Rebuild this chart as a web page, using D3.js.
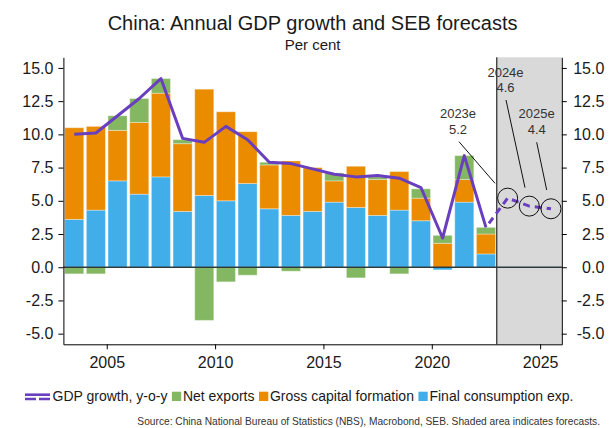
<!DOCTYPE html>
<html>
<head>
<meta charset="utf-8">
<script src="https://cdn.jsdelivr.net/npm/d3@7/dist/d3.min.js"></script>
<style>
  html, body { margin: 0; padding: 0; background: #fff; }
  svg { display: block; font-family: "Liberation Sans", Arial, sans-serif; }
</style>
</head>
<body>
<svg id="chart" width="609" height="428"></svg>
<script>
// Contributions to China's real GDP growth, percentage points
const years = [2003, 2004, 2005, 2006, 2007, 2008, 2009, 2010, 2011, 2012,
               2013, 2014, 2015, 2016, 2017, 2018, 2019, 2020, 2021, 2022];
const consumption = [3.6, 4.3, 6.5, 5.5, 6.8, 4.2, 5.4, 5.0, 6.3, 4.4,
                     3.9, 4.2, 4.9, 4.5, 3.9, 4.3, 3.5, -0.2, 4.9, 1.0];
const capitalFormation = [6.9, 6.3, 3.8, 5.4, 6.3, 5.1, 8.0, 6.7, 3.9, 3.3,
                          4.1, 3.3, 1.6, 3.1, 2.7, 2.9, 1.7, 1.8, 1.7, 1.5];
const netExports = [-0.5, -0.5, 1.1, 1.8, 1.1, 0.3, -4.0, -1.1, -0.6, 0.2,
                    -0.3, -0.1, 0.6, -0.8, 0.2, -0.5, 0.7, 0.6, 1.8, 0.5];
const gdpGrowth = [10.0, 10.1, 11.4, 12.7, 14.2, 9.7, 9.4, 10.6, 9.6, 7.9,
                   7.8, 7.4, 7.0, 6.8, 6.9, 6.7, 6.0, 2.2, 8.4, 3.0];
// SEB forecasts (the dashed segment starts from the last outcome)
const forecastYears = [2022, 2023, 2024, 2025];
const forecastGrowth = [3.0, 5.2, 4.6, 4.4];
const labelledYears = [2023, 2024, 2025];
const labelledValues = [5.2, 4.6, 4.4];
const yTicks = [-5, -2.5, 0, 2.5, 5, 7.5, 10, 12.5, 15];
const xTicks = [2005, 2010, 2015, 2020, 2025];
const forecastStart = 2023;

const colors = {
  consumption: "#41aeea",
  capital: "#ea8b00",
  net: "#84b761",
  gdp: "#6a3fbf",
  shade: "#d9d9d9"
};

const svg = d3.select("#chart");
const W = 609, H = 428;
const m = { left: 63.4, right: 609 - 561.8, top: 57.3, bottom: 428 - 344.3 };
const iw = W - m.left - m.right, ih = H - m.top - m.bottom;

const x = d3.scaleLinear().domain([2003, 2026]).range([m.left, m.left + iw]);
const y = d3.scaleLinear().domain([-5.8, 15.8]).range([m.top + ih, m.top]);

const fmtLocale = d3.formatLocale({ decimal: ".", thousands: ",", grouping: [3], currency: ["", ""], minus: "-" });
const fmt1 = fmtLocale.format(".1f");

// Title
svg.append("text").attr("x", x(2014.5)).attr("y", 29.5)
  .attr("text-anchor", "middle").attr("font-size", 20).attr("fill", "#1a1a1a")
  .text("China: Annual GDP growth and SEB forecasts");
svg.append("text").attr("x", x(2014.5)).attr("y", 50)
  .attr("text-anchor", "middle").attr("font-size", 15).attr("fill", "#1a1a1a")
  .text("Per cent");

// Forecast shading
svg.append("rect")
  .attr("x", x(forecastStart)).attr("y", y(15.8))
  .attr("width", x(2026) - x(forecastStart)).attr("height", y(-5.8) - y(15.8))
  .attr("fill", colors.shade);
svg.append("line")
  .attr("x1", x(forecastStart)).attr("x2", x(forecastStart))
  .attr("y1", y(15.8)).attr("y2", y(-5.8))
  .attr("stroke", "#000").attr("stroke-width", 1);

// Stacked contribution bars
const rows = years.map((yr, i) => ({
  year: yr,
  consumption: consumption[i],
  capital: capitalFormation[i],
  net: netExports[i]
}));
const keys = ["consumption", "capital", "net"];
const series = d3.stack().keys(keys).offset(d3.stackOffsetDiverging)(rows);
const slot = x(2004) - x(2003);
const bw = slot * 0.88;

svg.append("g").selectAll("g").data(series).join("g")
  .attr("fill", d => colors[d.key])
  .selectAll("rect").data(d => d).join("rect")
  .attr("x", d => x(d.data.year + 0.5) - bw / 2)
  .attr("width", bw)
  .attr("y", d => y(Math.max(d[0], d[1])))
  .attr("height", d => Math.abs(y(d[0]) - y(d[1])))
  .attr("stroke", "#fff").attr("stroke-opacity", 0.35).attr("stroke-width", 1);

// Zero line
svg.append("line")
  .attr("x1", x(2003)).attr("x2", x(2026))
  .attr("y1", y(0)).attr("y2", y(0))
  .attr("stroke", "#2b3b3d").attr("stroke-width", 1.3);

// GDP growth line
const line = d3.line().x(d => x(d[0] + 0.5)).y(d => y(d[1]));
svg.append("path")
  .datum(years.map((yr, i) => [yr, gdpGrowth[i]]))
  .attr("d", line).attr("fill", "none")
  .attr("stroke", colors.gdp).attr("stroke-width", 3).attr("stroke-linejoin", "round");
svg.append("path")
  .datum(forecastYears.map((yr, i) => [yr, forecastGrowth[i]]))
  .attr("d", line).attr("fill", "none")
  .attr("stroke", colors.gdp).attr("stroke-width", 3)
  .attr("stroke-dasharray", "7,5").attr("stroke-dashoffset", -5);

// Circled forecasts
svg.append("g").selectAll("circle").data(labelledYears).join("circle")
  .attr("cx", (d) => x(d + 0.5))
  .attr("cy", (d, i) => y(labelledValues[i]))
  .attr("r", 10).attr("fill", "none").attr("stroke", "#111").attr("stroke-width", 1);

// Forecast annotations with leader lines
const notes = [
  { year: 2023, value: 5.2, tx: 458, ty: 118.3, lx1: 459, ly1: 141.7, lx2: 495, ly2: 183.3 },
  { year: 2024, value: 4.6, tx: 505.5, ty: 76.7, lx1: 506, ly1: 100, lx2: 525, ly2: 187.7 },
  { year: 2025, value: 4.4, tx: 536.7, ty: 118.3, lx1: 536.7, ly1: 142.3, lx2: 546.7, ly2: 190 }
];
const ng = svg.append("g").attr("font-size", 13).attr("fill", "#333").attr("text-anchor", "middle");
notes.forEach(n => {
  ng.append("text").attr("x", n.tx).attr("y", n.ty).text(n.year + "e");
  ng.append("text").attr("x", n.tx).attr("y", n.ty + 15.7).text(fmt1(n.value));
  ng.append("line").attr("x1", n.lx1).attr("y1", n.ly1).attr("x2", n.lx2).attr("y2", n.ly2)
    .attr("stroke", "#111").attr("stroke-width", 1);
});

// Axes
const yLeft = svg.append("g").attr("transform", `translate(${m.left},0)`)
  .call(d3.axisLeft(y).tickValues(yTicks).tickFormat(fmt1).tickSize(5).tickPadding(5).tickSizeOuter(0));
const yRight = svg.append("g").attr("transform", `translate(${m.left + iw},0)`)
  .call(d3.axisRight(y).tickValues(yTicks).tickFormat(fmt1).tickSize(5).tickSizeOuter(0));
yRight.selectAll("text").attr("x", 42.5).attr("text-anchor", "end");
const xAxis = svg.append("g").attr("transform", `translate(0,${m.top + ih})`)
  .call(d3.axisBottom(x).tickValues(xTicks).tickFormat(d3.format("d")).tickSize(5).tickPadding(7).tickSizeOuter(0));

[yLeft, yRight, xAxis].forEach(g => {
  g.selectAll("text").attr("font-size", 16).attr("fill", "#1a1a1a")
    .attr("font-family", "Liberation Sans, Arial, sans-serif");
  g.selectAll("path, line").attr("stroke", "#000");
});

// Legend
const lg = svg.append("g").attr("font-size", 14).attr("fill", "#1a1a1a");
const base = 401;
let cx = 25;
lg.append("line").attr("x1", cx).attr("x2", cx + 25).attr("y1", 394.7).attr("y2", 394.7)
  .attr("stroke", colors.gdp).attr("stroke-width", 2.6);
lg.append("line").attr("x1", cx).attr("x2", cx + 25).attr("y1", 399).attr("y2", 399)
  .attr("stroke", colors.gdp).attr("stroke-width", 2.6).attr("stroke-dasharray", "11,3");
cx += 27.5;
const legendItems = [
  { label: "GDP growth, y-o-y", color: null },
  { label: "Net exports", color: colors.net },
  { label: "Gross capital formation", color: colors.capital },
  { label: "Final consumption exp.", color: colors.consumption }
];
legendItems.forEach((it, i) => {
  if (it.color) {
    lg.append("rect").attr("x", cx).attr("y", base - 9.3).attr("width", 9.3).attr("height", 9.3)
      .attr("fill", it.color);
    cx += 11;
  }
  const t = lg.append("text").attr("x", cx).attr("y", base).text(it.label);
  cx += t.node().getComputedTextLength() + 4.5;
});

// Source
svg.append("text").attr("x", 600).attr("y", 425).attr("text-anchor", "end")
  .attr("font-size", 10.2).attr("fill", "#333")
  .text("Source: China National Bureau of Statistics (NBS), Macrobond, SEB. Shaded area indicates forecasts.");
</script>
</body>
</html>
